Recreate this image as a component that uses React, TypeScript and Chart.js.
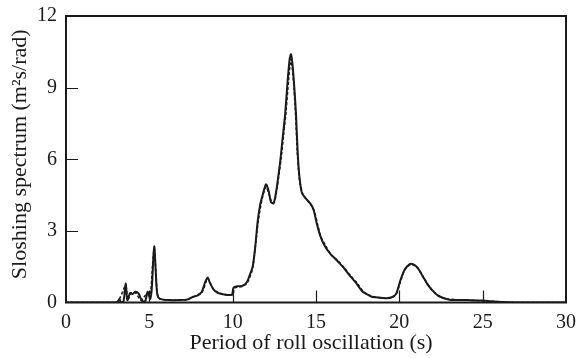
import React, { useEffect, useRef } from "react";
import { Chart, registerables } from "chart.js";

Chart.register(...registerables);

// Period of roll oscillation (s) and sloshing spectrum (m²s/rad), solid curve
const periodSolid = [
  0, 2.9, 3.1, 3.2, 3.3, 3.45, 3.58, 3.68, 3.85, 4.0, 4.15, 4.35, 4.55, 4.75, 4.9, 5.05, 5.15, 5.25, 5.3,
  5.37, 5.45, 5.55, 5.8, 6.2, 6.8, 7.25, 7.6, 7.9, 8.15, 8.35, 8.5, 8.65, 8.85, 9.1, 9.4, 9.95, 10.05,
  10.3, 10.6, 10.85, 11.05, 11.2, 11.35, 11.5, 11.65, 11.8, 12.0, 12.15, 12.3, 12.45, 12.6, 12.85, 13.0,
  13.15, 13.3, 13.42, 13.5, 13.6, 13.7, 13.8, 13.9, 14.0, 14.15, 14.4, 14.65, 14.85, 15.05, 15.25, 15.5,
  15.85, 16.2, 16.6, 17.0, 17.4, 17.8, 18.1, 18.4, 18.9, 19.25, 19.55, 19.8, 20.05, 20.3, 20.6, 20.85,
  21.1, 21.4, 21.7, 22.0, 22.3, 22.6, 23.0, 24.0, 25.0, 25.5, 26.2, 27.0, 30.0,
];
const spectrumSolid = [
  0, 0, 0.02, 0.15, 0.02, 0.05, 0.8, 0.1, 0.4, 0.35, 0.45, 0.38, 0.08, 0.05, 0.45, 0.15, 0.6, 2.0, 2.35,
  1.5, 0.5, 0.2, 0.12, 0.1, 0.1, 0.12, 0.23, 0.3, 0.45, 0.85, 1.05, 0.8, 0.55, 0.4, 0.35, 0.33, 0.62,
  0.68, 0.7, 0.85, 1.2, 1.5, 2.3, 3.4, 4.1, 4.5, 4.95, 4.7, 4.2, 4.15, 4.6, 5.9, 6.9,
  7.9, 9.3, 10.2, 10.4, 9.9, 9.0, 7.9, 6.3, 5.3, 4.6, 4.35, 4.15, 3.9, 3.3, 2.8, 2.4,
  2.05, 1.8, 1.5, 1.15, 0.82, 0.45, 0.33, 0.23, 0.2, 0.18, 0.22, 0.35, 0.9, 1.35, 1.6, 1.6,
  1.45, 1.1, 0.75, 0.5, 0.3, 0.2, 0.12, 0.1, 0.08, 0.05, 0.02, 0, 0,
];

// Dashed curve
const periodDashed = [
  0, 3.0, 3.58, 3.7, 3.9, 4.15, 4.5, 4.9, 5.05, 5.2, 5.3, 5.4, 5.55, 6.2, 7.25, 7.6, 8.15, 8.5, 8.85,
  9.4, 10.0, 10.1, 10.6, 10.9, 11.2, 11.4, 11.55, 11.8, 12.0, 12.15, 12.35, 12.5, 12.65, 12.9, 13.05,
  13.2, 13.35, 13.45, 13.5, 13.58, 13.68, 13.78, 13.88, 14.0, 14.2, 14.45, 14.7, 14.9, 15.1, 15.3, 15.6,
  15.9, 16.3, 16.7, 17.1, 17.5, 17.85, 18.2, 18.6, 19.2, 19.6, 19.85, 20.1, 20.35, 20.65, 20.9, 21.15,
  21.45, 21.75, 22.05, 22.4, 22.8, 24.0, 25.0, 26.2, 27.0, 30.0,
];
const spectrumDashed = [
  0, 0, 0.7, 0.1, 0.38, 0.42, 0.1, 0.4, 0.2, 1.6, 2.25, 1.2, 0.2, 0.1, 0.12, 0.22, 0.42, 1.0, 0.55,
  0.35, 0.32, 0.6, 0.68, 0.85, 1.45, 2.6, 3.5, 4.45, 4.85, 4.6, 4.2, 4.2, 4.75, 6.0, 7.0,
  8.0, 9.3, 10.0, 10.2, 9.8, 9.0, 7.8, 6.3, 5.2, 4.55, 4.3, 4.1, 3.8, 3.25, 2.75, 2.35,
  2.0, 1.75, 1.45, 1.1, 0.78, 0.45, 0.3, 0.22, 0.18, 0.22, 0.4, 0.95, 1.4, 1.58, 1.55, 1.4,
  1.05, 0.72, 0.45, 0.25, 0.15, 0.1, 0.07, 0.02, 0, 0,
];

const xTicks = [0, 5, 10, 15, 20, 25, 30];
const yTicks = [0, 3, 6, 9, 12];
const xTitle = "Period of roll oscillation (s)";
const yTitle = "Sloshing spectrum (m²s/rad)";

const serif = "'Liberation Serif', 'DejaVu Serif', serif";
const ink = "#1a1a1a";

// Draws the boxed frame, the inward-pointing tick marks and both axis titles
const framePlugin = {
  id: "frame",
  afterDraw(chart: any) {
    const { ctx, chartArea: a, scales } = chart;
    ctx.save();
    ctx.strokeStyle = ink;
    ctx.lineWidth = 2;
    ctx.strokeRect(a.left, a.top, a.right - a.left, a.bottom - a.top);
    ctx.lineWidth = 1.2;
    ctx.beginPath();
    for (const v of xTicks.slice(1, -1)) {
      const px = Math.round(scales.x.getPixelForValue(v)) + 0.5;
      ctx.moveTo(px, a.bottom);
      ctx.lineTo(px, a.bottom - 12);
    }
    for (const v of yTicks.slice(1, -1)) {
      const py = Math.round(scales.y.getPixelForValue(v)) + 0.5;
      ctx.moveTo(a.left, py);
      ctx.lineTo(a.left + 12, py);
    }
    ctx.stroke();

    ctx.fillStyle = ink;
    ctx.textAlign = "center";
    ctx.textBaseline = "middle";
    ctx.font = `22px ${serif}`;
    ctx.fillText(xTitle, (a.left + a.right) / 2 - 5, 343);
    ctx.translate(20, (a.top + a.bottom) / 2 - 5);
    ctx.rotate(-Math.PI / 2);
    ctx.font = `22px ${serif}`;
    ctx.fillText(yTitle, 0, 0);
    ctx.restore();
  },
};

export default function App() {
  const ref = useRef<HTMLCanvasElement>(null);

  useEffect(() => {
    if (!ref.current) return;
    const chart = new Chart(ref.current, {
      type: "line",
      data: {
        datasets: [
          {
            label: "solid",
            data: periodSolid.map((x, i) => ({ x, y: spectrumSolid[i] })),
            borderColor: ink,
            borderWidth: 2,
            pointRadius: 0,
            tension: 0.25,
            fill: false,
          },
          {
            label: "dashed",
            data: periodDashed.map((x, i) => ({ x, y: spectrumDashed[i] })),
            borderColor: ink,
            borderWidth: 1.6,
            borderDash: [3, 2],
            pointRadius: 0,
            tension: 0.25,
            fill: false,
          },
        ],
      },
      options: {
        animation: false,
        responsive: true,
        maintainAspectRatio: false,
        layout: { padding: { top: 16, right: 12, left: 0, bottom: 0 } },
        plugins: { legend: { display: false }, tooltip: { enabled: false } },
        scales: {
          x: {
            type: "linear",
            min: 0,
            max: 30,
            afterBuildTicks: (s: any) => {
              s.ticks = xTicks.map((value) => ({ value }));
            },
            afterFit: (s: any) => {
              s.height = 55.5;
              s.paddingLeft = 0;
              s.paddingRight = 0;
            },
            grid: { display: false, drawTicks: false },
            border: { display: false },
            ticks: { color: ink, padding: 8, font: { family: serif, size: 20 }, maxRotation: 0 },
          },
          y: {
            type: "linear",
            min: 0,
            max: 12,
            afterBuildTicks: (s: any) => {
              s.ticks = yTicks.map((value) => ({ value }));
            },
            afterFit: (s: any) => {
              s.width = 66;
              s.paddingTop = 0;
              s.paddingBottom = 0;
            },
            grid: { display: false, drawTicks: false },
            border: { display: false },
            ticks: { color: ink, padding: 9, font: { family: serif, size: 20 } },
          },
        },
      },
      plugins: [framePlugin],
    });
    return () => chart.destroy();
  }, []);

  return (
    <div style={{ position: "fixed", left: 0, top: 0, width: 578, height: 358, background: "#fff" }}>
      <canvas ref={ref} />
    </div>
  );
}
